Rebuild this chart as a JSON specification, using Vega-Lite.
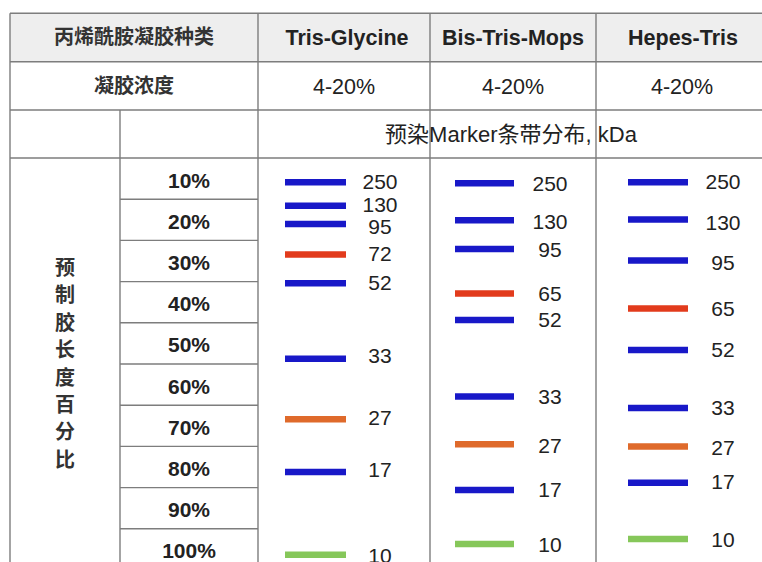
{
  "$schema": "https://vega.github.io/schema/vega-lite/v6.json",
  "width": 762,
  "height": 562,
  "autosize": {"type": "none"},
  "padding": 0,
  "background": "white",
  "config": {"view": {"stroke": null}},
  "datasets": {
    "cells": [{"x": 10, "x2": 762, "y": -30.12, "y2": -18.37}],
    "lines": [
      {"x": 10, "x2": 762, "y": -30.12, "y2": -30.12},
      {"x": 10, "x2": 762, "y": -18.37, "y2": -18.37},
      {"x": 10, "x2": 762, "y": -6.65, "y2": -6.65},
      {"x": 10, "x2": 762, "y": 5, "y2": 5},
      {"x": 120, "x2": 258, "y": 15, "y2": 15},
      {"x": 120, "x2": 258, "y": 25, "y2": 25},
      {"x": 120, "x2": 258, "y": 35, "y2": 35},
      {"x": 120, "x2": 258, "y": 45, "y2": 45},
      {"x": 120, "x2": 258, "y": 55, "y2": 55},
      {"x": 120, "x2": 258, "y": 65, "y2": 65},
      {"x": 120, "x2": 258, "y": 75, "y2": 75},
      {"x": 120, "x2": 258, "y": 85, "y2": 85},
      {"x": 120, "x2": 258, "y": 95, "y2": 95},
      {"x": 10, "x2": 10, "y": -30.12, "y2": 104},
      {"x": 120, "x2": 120, "y": -6.65, "y2": 104},
      {"x": 258, "x2": 258, "y": -30.12, "y2": 104},
      {"x": 430, "x2": 430, "y": -30.12, "y2": 104},
      {"x": 596, "x2": 596, "y": -30.12, "y2": 104}
    ],
    "texts": [
      {"text": "丙烯酰胺凝胶种类", "x": 134, "y": -24.25, "kind": "cjkhead"},
      {"text": "凝胶浓度", "x": 134, "y": -12.5, "kind": "cjkhead"},
      {"text": "Tris-Glycine", "x": 347, "y": -24.25, "kind": "gelname"},
      {"text": "Bis-Tris-Mops", "x": 513, "y": -24.25, "kind": "gelname"},
      {"text": "Hepes-Tris", "x": 683, "y": -24.25, "kind": "gelname"},
      {"text": "4-20%", "x": 344, "y": -12.5, "kind": "conc"},
      {"text": "4-20%", "x": 513, "y": -12.5, "kind": "conc"},
      {"text": "4-20%", "x": 682, "y": -12.5, "kind": "conc"},
      {"text": "预染Marker条带分布, kDa", "x": 511, "y": -0.83, "kind": "subhead"},
      {"text": "10%", "x": 189, "y": 10, "kind": "pct"},
      {"text": "20%", "x": 189, "y": 20, "kind": "pct"},
      {"text": "30%", "x": 189, "y": 30, "kind": "pct"},
      {"text": "40%", "x": 189, "y": 40, "kind": "pct"},
      {"text": "50%", "x": 189, "y": 50, "kind": "pct"},
      {"text": "60%", "x": 189, "y": 60, "kind": "pct"},
      {"text": "70%", "x": 189, "y": 70, "kind": "pct"},
      {"text": "80%", "x": 189, "y": 80, "kind": "pct"},
      {"text": "90%", "x": 189, "y": 90, "kind": "pct"},
      {"text": "100%", "x": 189, "y": 100, "kind": "pct"},
      {"text": "预\n制\n胶\n长\n度\n百\n分\n比", "x": 65, "y": 55, "kind": "vert"}
    ],
    "gels": [
      {"gel": "Tris-Glycine", "bx": 285, "bx2": 346, "lx": 380},
      {"gel": "Bis-Tris-Mops", "bx": 455, "bx2": 514, "lx": 550},
      {"gel": "Hepes-Tris", "bx": 628, "bx2": 688, "lx": 723}
    ],
    "bands": [
      {"gel": "Tris-Glycine", "kda": "250", "y": 10.9, "ly": 10.6, "marker": "standard"},
      {"gel": "Tris-Glycine", "kda": "130", "y": 16.6, "ly": 16.3, "marker": "standard"},
      {"gel": "Tris-Glycine", "kda": "95", "y": 21.0, "ly": 21.6, "marker": "standard"},
      {"gel": "Tris-Glycine", "kda": "72", "y": 28.4, "ly": 28.3, "marker": "red"},
      {"gel": "Tris-Glycine", "kda": "52", "y": 35.4, "ly": 35.1, "marker": "standard"},
      {"gel": "Tris-Glycine", "kda": "33", "y": 53.7, "ly": 52.9, "marker": "standard"},
      {"gel": "Tris-Glycine", "kda": "27", "y": 68.4, "ly": 67.9, "marker": "orange"},
      {"gel": "Tris-Glycine", "kda": "17", "y": 81.2, "ly": 80.5, "marker": "standard"},
      {"gel": "Tris-Glycine", "kda": "10", "y": 101.3, "ly": 101.6, "marker": "green"},
      {"gel": "Bis-Tris-Mops", "kda": "250", "y": 11.1, "ly": 11.1, "marker": "standard"},
      {"gel": "Bis-Tris-Mops", "kda": "130", "y": 20.1, "ly": 20.5, "marker": "standard"},
      {"gel": "Bis-Tris-Mops", "kda": "95", "y": 27.1, "ly": 27.3, "marker": "standard"},
      {"gel": "Bis-Tris-Mops", "kda": "65", "y": 37.9, "ly": 38.0, "marker": "red"},
      {"gel": "Bis-Tris-Mops", "kda": "52", "y": 44.3, "ly": 44.2, "marker": "standard"},
      {"gel": "Bis-Tris-Mops", "kda": "33", "y": 62.9, "ly": 62.8, "marker": "standard"},
      {"gel": "Bis-Tris-Mops", "kda": "27", "y": 74.5, "ly": 74.7, "marker": "orange"},
      {"gel": "Bis-Tris-Mops", "kda": "17", "y": 85.6, "ly": 85.4, "marker": "standard"},
      {"gel": "Bis-Tris-Mops", "kda": "10", "y": 98.7, "ly": 98.9, "marker": "green"},
      {"gel": "Hepes-Tris", "kda": "250", "y": 10.9, "ly": 10.8, "marker": "standard"},
      {"gel": "Hepes-Tris", "kda": "130", "y": 19.9, "ly": 20.7, "marker": "standard"},
      {"gel": "Hepes-Tris", "kda": "95", "y": 29.9, "ly": 30.4, "marker": "standard"},
      {"gel": "Hepes-Tris", "kda": "65", "y": 41.5, "ly": 41.5, "marker": "red"},
      {"gel": "Hepes-Tris", "kda": "52", "y": 51.6, "ly": 51.4, "marker": "standard"},
      {"gel": "Hepes-Tris", "kda": "33", "y": 65.7, "ly": 65.5, "marker": "standard"},
      {"gel": "Hepes-Tris", "kda": "27", "y": 75.0, "ly": 75.2, "marker": "orange"},
      {"gel": "Hepes-Tris", "kda": "17", "y": 83.8, "ly": 83.6, "marker": "standard"},
      {"gel": "Hepes-Tris", "kda": "10", "y": 97.5, "ly": 97.7, "marker": "green"}
    ]
  },
  "encoding": {
    "x": {"field": "x", "type": "quantitative", "scale": {"domain": [0, 762], "nice": false, "zero": false}, "axis": null},
    "y": {"field": "y", "type": "quantitative", "scale": {"domain": [-33.35, 103.06], "reverse": true, "nice": false, "zero": false}, "axis": null}
  },
  "layer": [
    {
      "data": {"name": "cells"},
      "mark": {"type": "rect", "fill": "#eeeeee"},
      "encoding": {"x2": {"field": "x2"}, "y2": {"field": "y2"}}
    },
    {
      "data": {"name": "lines"},
      "mark": {"type": "rule", "stroke": "#7d7d7d", "strokeWidth": 1.4},
      "encoding": {"x2": {"field": "x2"}, "y2": {"field": "y2"}}
    },
    {
      "data": {"name": "texts"},
      "transform": [{"filter": "datum.kind === 'cjkhead'"}],
      "mark": {"type": "text", "font": "Noto Sans CJK SC", "fontSize": 20, "fontWeight": "bold", "color": "#333333", "align": "center", "baseline": "middle", "dy": 1},
      "encoding": {"text": {"field": "text"}}
    },
    {
      "data": {"name": "texts"},
      "transform": [{"filter": "datum.kind === 'gelname'"}],
      "mark": {"type": "text", "font": "Liberation Sans", "fontSize": 21.5, "fontWeight": "bold", "color": "#222222", "align": "center", "baseline": "middle", "dy": 2},
      "encoding": {"text": {"field": "text"}}
    },
    {
      "data": {"name": "texts"},
      "transform": [{"filter": "datum.kind === 'conc'"}],
      "mark": {"type": "text", "font": "Liberation Sans", "fontSize": 21.5, "color": "#222222", "align": "center", "baseline": "middle", "dy": 2},
      "encoding": {"text": {"field": "text"}}
    },
    {
      "data": {"name": "texts"},
      "transform": [{"filter": "datum.kind === 'subhead'"}],
      "mark": {"type": "text", "font": "Liberation Sans, Noto Sans CJK SC", "fontSize": 22, "color": "#222222", "align": "center", "baseline": "middle", "dy": 1},
      "encoding": {"text": {"field": "text"}}
    },
    {
      "data": {"name": "texts"},
      "transform": [{"filter": "datum.kind === 'pct'"}],
      "mark": {"type": "text", "font": "Liberation Sans", "fontSize": 21, "fontWeight": "bold", "color": "#222222", "align": "center", "baseline": "middle", "dy": 3},
      "encoding": {"text": {"field": "text"}}
    },
    {
      "data": {"name": "texts"},
      "transform": [{"filter": "datum.kind === 'vert'"}],
      "mark": {"type": "text", "font": "Noto Sans CJK SC", "fontSize": 20, "fontWeight": "bold", "color": "#333333", "align": "center", "baseline": "middle", "lineBreak": "\n", "lineHeight": 27.4, "dy": -95},
      "encoding": {"text": {"field": "text"}}
    },
    {
      "data": {"name": "bands"},
      "transform": [{"lookup": "gel", "from": {"data": {"name": "gels"}, "key": "gel", "fields": ["bx", "bx2", "lx"]}}],
      "mark": {"type": "rule", "strokeWidth": 6.5, "strokeCap": "butt"},
      "encoding": {
        "x": {"field": "bx", "type": "quantitative", "scale": {"domain": [0, 762], "nice": false, "zero": false}, "axis": null},
        "x2": {"field": "bx2"},
        "color": {"field": "marker", "type": "nominal", "scale": {"domain": ["standard", "red", "orange", "green"], "range": ["#1818c8", "#e23b1c", "#df6a2b", "#86c75a"]}, "legend": null}
      }
    },
    {
      "data": {"name": "bands"},
      "transform": [{"lookup": "gel", "from": {"data": {"name": "gels"}, "key": "gel", "fields": ["bx", "bx2", "lx"]}}],
      "mark": {"type": "text", "font": "Liberation Sans", "fontSize": 21, "color": "#222222", "align": "center", "baseline": "middle", "dy": 1.5},
      "encoding": {
        "x": {"field": "lx", "type": "quantitative", "scale": {"domain": [0, 762], "nice": false, "zero": false}, "axis": null},
        "y": {"field": "ly", "type": "quantitative", "scale": {"domain": [-33.35, 103.06], "reverse": true, "nice": false, "zero": false}, "axis": null},
        "text": {"field": "kda"}
      }
    }
  ]
}
